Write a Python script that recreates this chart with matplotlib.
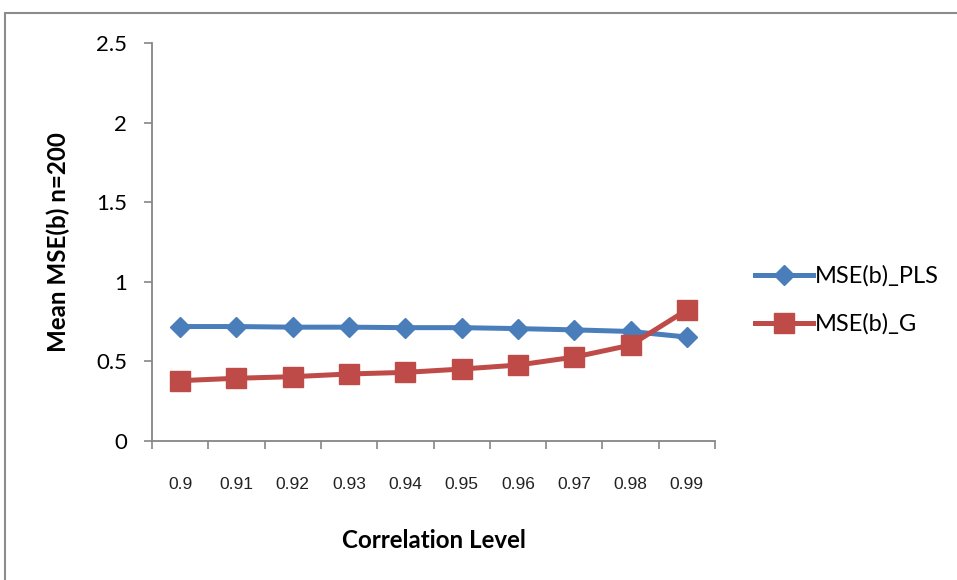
import matplotlib.pyplot as plt
from matplotlib.patches import Rectangle

categories = ["0.9", "0.91", "0.92", "0.93", "0.94", "0.95", "0.96", "0.97", "0.98", "0.99"]
mse_pls = [0.719, 0.719, 0.715, 0.715, 0.712, 0.712, 0.706, 0.698, 0.688, 0.653]
mse_g = [0.379, 0.394, 0.404, 0.421, 0.431, 0.452, 0.477, 0.527, 0.602, 0.823]
yticks = [0, 0.5, 1, 1.5, 2, 2.5]
ytick_labels = ["0", "0.5", "1", "1.5", "2", "2.5"]

W, H = 957, 580
fig = plt.figure(figsize=(W / 100, H / 100), dpi=100)
ax = fig.add_axes([152 / W, 1 - 441 / H, (715 - 152) / W, (441 - 43) / H])

blue = "#4A7EBB"
red = "#BE4B48"
x = list(range(len(categories)))
ax.plot(x, mse_pls, color=blue, lw=3.6, marker="D", ms=9.7, label="MSE(b)_PLS", zorder=3)
ax.plot(x, mse_g, color=red, lw=3.6, marker="s", ms=13.8, label="MSE(b)_G", zorder=4)

ax.set_xlim(-0.5, len(categories) - 0.5)
ax.set_ylim(0, 2.5)
ax.set_yticks(yticks)
ax.set_yticklabels(ytick_labels, fontfamily="Lato", fontsize=16)
ax.set_xticks(x)
ax.set_xticklabels(categories, fontfamily="Liberation Sans", fontsize=12.5, color="#222222")
ax.set_xticks([i - 0.5 for i in range(len(categories) + 1)], minor=True)
ax.tick_params(axis="x", which="major", length=0, pad=26)
ax.tick_params(axis="x", which="minor", length=6, color="#868686", width=1.2)
ax.tick_params(axis="y", length=6, color="#868686", width=1.2, pad=12)

for s in ["top", "right"]:
    ax.spines[s].set_visible(False)
for s in ["left", "bottom"]:
    ax.spines[s].set_color("#868686")
    ax.spines[s].set_linewidth(1.3)

ax.set_ylabel("Mean MSE(b) n=200", fontfamily="Lato", fontweight="bold", fontsize=17.4)
ax.yaxis.set_label_coords(-0.146, 0.5)
ax.set_xlabel("Correlation Level", fontfamily="Lato", fontweight="bold", fontsize=17.4)
ax.xaxis.set_label_coords(0.5, -0.222)

leg = ax.legend(loc="center left", bbox_to_anchor=(1.071, 0.354), frameon=False,
                prop={"family": "Lato", "size": 17}, handlelength=2.45, handletextpad=0.1,
                labelspacing=1.12, borderpad=0, borderaxespad=0)

fig.add_artist(Rectangle((5 / W, -0.1), 1.2, 1 - 13 / H + 0.1, transform=fig.transFigure,
                         fill=False, edgecolor="#8C8C8C", lw=1.5, clip_on=False))

fig.savefig("out.png", dpi=100)
